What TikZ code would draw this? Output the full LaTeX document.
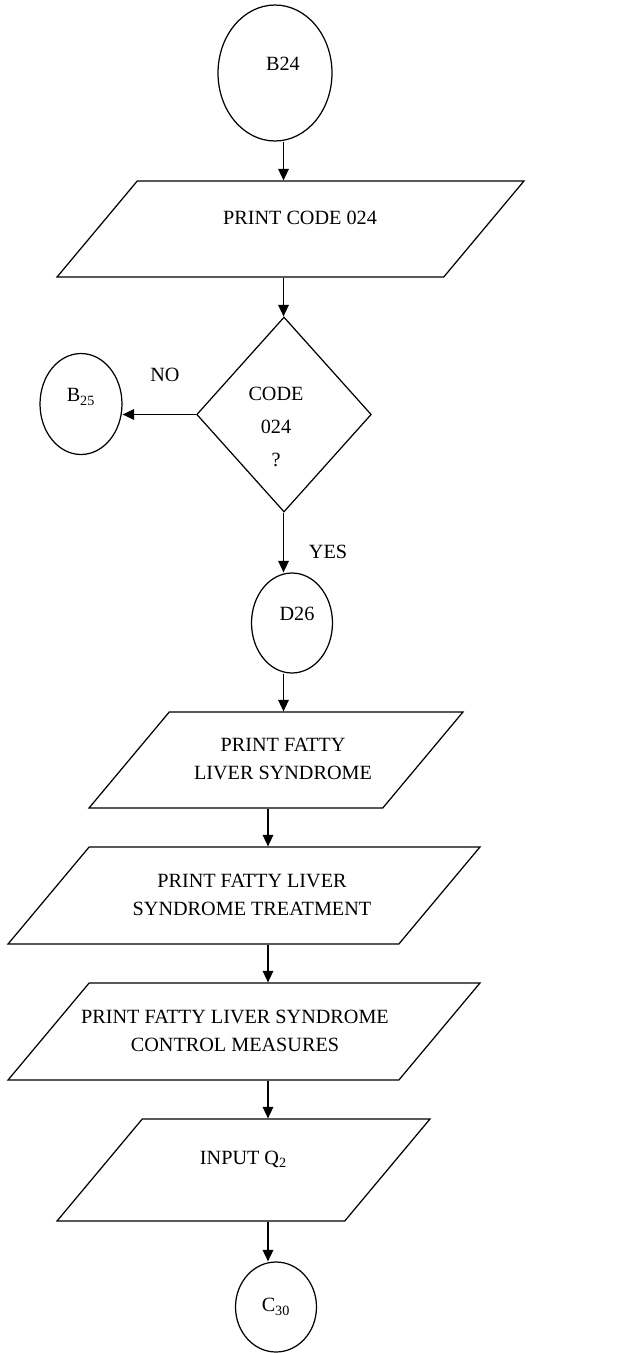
\documentclass[tikz,border=0pt]{standalone}
\usepackage{fontspec}
\setmainfont{Liberation Serif}
\usetikzlibrary{shapes.geometric,arrows.meta}

\begin{document}
\begin{tikzpicture}[x=0.02cm, y=-0.02cm,
    font=\fontsize{11.5}{15.9}\selectfont,
    conn/.style={ellipse, draw, line width=0.7pt, inner sep=0pt, text depth=10pt},
    iobox/.style={trapezium, trapezium left angle=50, trapezium right angle=130,
        trapezium stretches body=true, draw, line width=0.7pt, align=center, inner xsep=0pt},
    flow/.style={-{Triangle[length=0.23cm, width=0.21cm]}, line width=0.9pt}]
    \useasboundingbox (0,0) rectangle (624,1353);

    % Connectors (on-page references)
    \node[conn, minimum width=2.28cm, minimum height=2.72cm] (b24) at (275,73) {\hspace*{0.16cm}B24\hspace*{-0.16cm}};
    \node[conn, minimum width=1.64cm, minimum height=2.02cm] (b25) at (81,404) {B\textsubscript{25}};
    \node[conn, minimum width=1.62cm, minimum height=2.00cm] (d26) at (292,623) {\hspace*{0.1cm}D26\hspace*{-0.1cm}};
    \node[conn, minimum width=1.62cm, minimum height=1.80cm, text depth=2pt] (c30) at (276,1307) {C\textsubscript{30}};

    % Input / output boxes
    \node[iobox, minimum width=9.34cm, minimum height=1.92cm, text height=8pt, text depth=12.8pt, inner ysep=16.8pt]
        (p1) at (290.5,229) {\hspace*{0.19cm}PRINT CODE 024\hspace*{-0.19cm}};
    \node[iobox, minimum width=7.48cm, minimum height=1.92cm, inner ysep=11.3pt] (p2) at (276,760)
        {\hspace*{0.14cm}\begin{tabular}{@{}c@{}}PRINT FATTY\\LIVER SYNDROME\end{tabular}\hspace*{-0.14cm}};
    \node[iobox, minimum width=9.44cm, minimum height=1.94cm, inner ysep=11.6pt] (p3) at (244,895.5)
        {\hspace*{0.16cm}\begin{tabular}{@{}c@{}}PRINT FATTY LIVER\\SYNDROME TREATMENT\end{tabular}\hspace*{-0.16cm}};
    \node[iobox, minimum width=9.44cm, minimum height=1.94cm, inner ysep=11.6pt] (p4) at (244,1031.5)
        {\hspace*{-0.18cm}\begin{tabular}{@{}c@{}}PRINT FATTY LIVER SYNDROME\\CONTROL MEASURES\end{tabular}\hspace*{0.18cm}};
    \node[iobox, minimum width=7.46cm, minimum height=2.04cm, text height=8pt, text depth=14pt, inner ysep=17.9pt]
        (p5) at (243.5,1170) {INPUT Q\textsubscript{2}};

    % Decision
    \node[diamond, draw, line width=0.7pt, minimum width=3.26cm, minimum height=3.9cm, inner sep=0pt,
        font=\fontsize{11.5}{18.7}\selectfont] (dec) at (284,414.5)
        {\hspace*{-0.16cm}\raisebox{-7pt}[\height][\depth]{\begin{tabular}{c} CODE \\ 024 \\ ? \end{tabular}}\hspace*{0.16cm}};

    % Branch labels
    \node (no) at (165,375) {NO};
    \node (yes) at (328,552) {YES};

    % Flow lines
    \coordinate (colA) at (283.5,0);
    \coordinate (colB) at (268,0);
    \draw[flow] (b24.south -| colA) -- (p1.north -| colA);
    \draw[flow] (p1.south -| colA) -- (dec.north -| colA);
    \draw[flow] (dec.west) -- (b25.east |- dec.west);
    \draw[flow] (dec.south -| colA) -- (d26.north -| colA);
    \draw[flow] (d26.south -| colA) -- (p2.north -| colA);
    \draw[flow] (p2.south -| colB) -- (p3.north -| colB);
    \draw[flow] (p3.south -| colB) -- (p4.north -| colB);
    \draw[flow] (p4.south -| colB) -- (p5.north -| colB);
    \draw[flow] (p5.south -| colB) -- (c30.north -| colB);
\end{tikzpicture}
\end{document}
